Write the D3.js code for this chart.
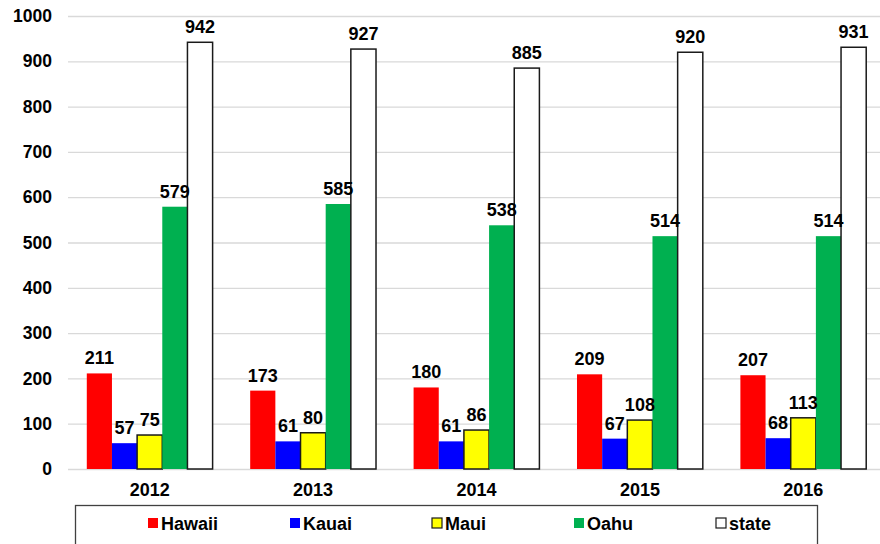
<!DOCTYPE html>
<html>
<head>
<meta charset="utf-8">
<script src="https://cdn.jsdelivr.net/npm/d3@7"></script>
<style>
  body { margin: 0; background: #fff; }
  text { font-family: 'Liberation Sans', Arial, sans-serif; font-weight: bold; fill: #000; }
</style>
</head>
<body>
<svg id="chart" width="880" height="544"></svg>
<script>
// data
const years = ['2012', '2013', '2014', '2015', '2016']
const seriesNames = ['Hawaii', 'Kauai', 'Maui', 'Oahu', 'state']
const hawaii = [211, 173, 180, 209, 207]
const kauai = [57, 61, 61, 67, 68]
const maui = [75, 80, 86, 108, 113]
const oahu = [579, 585, 538, 514, 514]
const state = [942, 927, 885, 920, 931]
const yTicks = [0, 100, 200, 300, 400, 500, 600, 700, 800, 900, 1000]

const colors = { Hawaii: '#ff0000', Kauai: '#0000ff', Maui: '#ffff00', Oahu: '#00b050', state: '#ffffff' }
const outlined = { Maui: true, state: true }

const values = { Hawaii: hawaii, Kauai: kauai, Maui: maui, Oahu: oahu, state: state }
const rows = years.map((y, i) => ({ year: y, vals: seriesNames.map(s => ({ key: s, value: values[s][i] })) }))

const svg = d3.select('#chart')

/// scales ////////////////////////////
const xScale = d3.scaleBand().domain(years).range([68, 885]).paddingInner(0.23).paddingOuter(0.115)
const xInner = d3.scaleBand().domain(seriesNames).range([0, xScale.bandwidth()])
const yScale = d3.scaleLinear().domain([0, 1000]).range([469, 16])

/// gridlines + y axis ////////////////
const yAxis = svg.append('g')
  .attr('transform', 'translate(68,0)')
  .call(d3.axisLeft(yScale).tickValues(yTicks).tickFormat(d3.format('d')).tickSizeInner(-812).tickSizeOuter(0).tickPadding(16))
yAxis.select('.domain').remove()
yAxis.selectAll('.tick line').attr('stroke', '#d9d9d9').attr('stroke-width', 1.3)
yAxis.selectAll('.tick text').attr('font-size', 17.5).attr('font-family', "'Liberation Sans', Arial, sans-serif").attr('font-weight', 'bold').attr('fill', '#000')

/// bars //////////////////////////////
const groups = svg.append('g')
  .selectAll('g')
  .data(rows)
  .enter()
  .append('g')
  .attr('transform', d => 'translate(' + xScale(d.year) + ',0)')

groups.selectAll('rect')
  .data(d => d.vals)
  .enter()
  .append('rect')
  .attr('x', d => xInner(d.key))
  .attr('y', d => yScale(d.value))
  .attr('width', xInner.bandwidth())
  .attr('height', d => yScale(0) - yScale(d.value))
  .attr('fill', d => colors[d.key])
  .attr('stroke', d => outlined[d.key] ? '#1a1a1a' : 'none')
  .attr('stroke-width', 1.5)

groups.selectAll('.val')
  .data(d => d.vals)
  .enter()
  .append('text')
  .attr('class', 'val')
  .attr('x', d => xInner(d.key) + xInner.bandwidth() / 2)
  .attr('y', d => yScale(d.value) - 9)
  .attr('text-anchor', 'middle')
  .attr('font-size', 18)
  .text(d => d.value)

/// x axis labels /////////////////////
const xAxis = svg.append('g')
  .attr('transform', 'translate(0,469)')
  .call(d3.axisBottom(xScale).tickSize(0).tickPadding(14))
xAxis.select('.domain').remove()
xAxis.selectAll('.tick text').attr('font-size', 18).attr('font-family', "'Liberation Sans', Arial, sans-serif").attr('font-weight', 'bold').attr('fill', '#000')

/// legend ////////////////////////////
const legend = svg.append('g')
legend.append('rect')
  .attr('x', 75.5).attr('y', 505.5).attr('width', 742).attr('height', 60)
  .attr('fill', '#fff').attr('stroke', '#404040').attr('stroke-width', 1.3)

const legendX = d3.scalePoint().domain(seriesNames).range([148, 716])
const items = legend.selectAll('.item')
  .data(seriesNames)
  .enter()
  .append('g')
  .attr('transform', d => 'translate(' + legendX(d) + ',523)')
items.append('rect')
  .attr('x', 0).attr('y', -5).attr('width', 10).attr('height', 10)
  .attr('fill', d => colors[d])
  .attr('stroke', d => outlined[d] ? '#1a1a1a' : 'none')
  .attr('stroke-width', 1.2)
items.append('text')
  .attr('x', 13).attr('y', 6.5)
  .attr('font-size', 18)
  .text(d => d)
</script>
</body>
</html>
